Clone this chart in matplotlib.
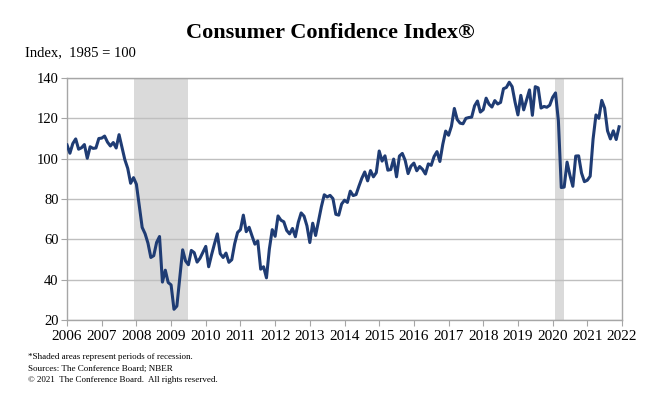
import numpy as np
import matplotlib
matplotlib.use('Agg')
import matplotlib.pyplot as plt

# monthly index values, Jan 2006 - Dec 2021
cci = [
    106.8, 102.7, 107.5, 109.8, 104.7, 105.4, 107.0, 100.2, 105.9, 105.1, 105.3, 110.0,  # 2006
    110.2, 111.2, 108.2, 106.3, 108.0, 105.3, 111.9, 105.6, 99.5, 95.2, 87.8, 90.6,     # 2007
    87.3, 76.4, 65.9, 62.8, 58.1, 51.0, 51.9, 58.5, 61.4, 38.8, 44.7, 38.6,             # 2008
    37.4, 25.3, 26.9, 40.8, 54.8, 49.3, 47.4, 54.5, 53.4, 48.7, 50.6, 53.6,             # 2009
    56.5, 46.4, 52.3, 57.7, 62.7, 52.9, 51.0, 53.2, 48.6, 49.9, 57.8, 63.4,             # 2010
    64.8, 72.0, 63.8, 66.0, 61.7, 57.6, 59.2, 45.2, 46.4, 40.9, 55.2, 64.8,             # 2011
    61.5, 71.6, 69.5, 68.7, 64.4, 62.7, 65.4, 61.3, 68.4, 73.1, 71.5, 66.7,             # 2012
    58.4, 68.0, 61.9, 69.0, 76.2, 82.1, 81.0, 81.8, 80.2, 72.4, 72.0, 77.5,             # 2013
    79.4, 78.3, 83.9, 81.7, 82.2, 86.4, 90.3, 93.4, 89.0, 94.1, 91.0, 93.1,             # 2014
    103.8, 98.8, 101.4, 94.3, 94.6, 99.8, 91.0, 101.3, 102.6, 99.1, 92.6, 96.3,         # 2015
    97.8, 94.0, 96.1, 94.7, 92.4, 97.4, 96.7, 101.1, 103.5, 98.6, 107.1, 113.7,         # 2016
    111.6, 116.1, 124.9, 119.4, 117.6, 117.3, 120.0, 120.4, 120.6, 126.2, 128.6, 123.1, # 2017
    124.3, 130.0, 127.0, 125.6, 128.8, 127.1, 127.9, 134.7, 135.3, 137.9, 135.7, 128.1, # 2018
    121.7, 131.4, 124.2, 129.2, 134.1, 121.5, 135.7, 135.1, 125.1, 125.9, 125.5, 126.5, # 2019
    130.4, 132.6, 118.8, 85.7, 85.9, 98.3, 91.7, 86.3, 101.3, 101.4, 92.9, 88.6,        # 2020
    89.3, 91.3, 109.7, 121.7, 120.0, 128.9, 125.1, 113.8, 109.8, 113.8, 109.5, 115.8,   # 2021
]
start_year = 2006
recessions = [(2007 + 11 / 12, 2009 + 6 / 12), (2020 + 1 / 12, 2020 + 4 / 12)]
years = list(range(2006, 2023))
yticks = [20, 40, 60, 80, 100, 120, 140]

serif = ['Liberation Serif', 'DejaVu Serif']
plt.rcParams['font.family'] = serif

fig = plt.figure(figsize=(6.67, 3.99), dpi=100)
ax = fig.add_axes([0.1005, 0.198, 0.832, 0.6065])

x = start_year + np.arange(len(cci)) / 12.0
for r0, r1 in recessions:
    ax.axvspan(r0, r1, color='#dadada', lw=0, zorder=0)
ax.plot(x, cci, color='#1f3c74', lw=2.2, zorder=3, solid_joinstyle='round')

ax.set_xlim(years[0], years[-1])
ax.set_ylim(yticks[0], yticks[-1])
ax.set_xticks(years)
ax.set_yticks(yticks)
ax.tick_params(axis='x', labelsize=11, length=4, color='#a6a6a6', pad=3)
ax.tick_params(axis='y', labelsize=10.5, length=4, color='#a6a6a6', pad=2)
ax.grid(axis='y', color='#bfbfbf', lw=1, zorder=1)
for s in ax.spines.values():
    s.set_color('#a6a6a6')
    s.set_linewidth(1)

fig.text(0.495, 0.917, 'Consumer Confidence Index\u00ae', ha='center', va='center',
         fontsize=16, fontweight='bold')
fig.text(0.037, 0.868, 'Index,  1985 = 100', ha='left', va='center', fontsize=10.5)

notes = ['*Shaded areas represent periods of recession.',
         'Sources: The Conference Board; NBER',
         '\u00a9 2021  The Conference Board.  All rights reserved.']
for i, n in enumerate(notes):
    fig.text(0.042, 0.105 - i * 0.029, n, ha='left', va='center', fontsize=6.5)

fig.savefig('out.png', dpi=100)
